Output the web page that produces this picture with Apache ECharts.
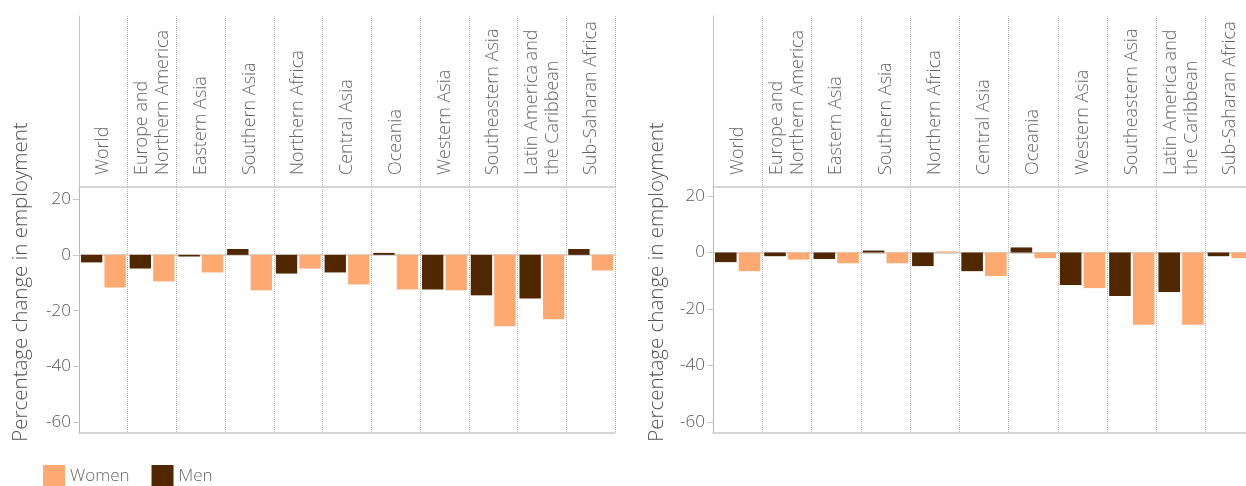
<!DOCTYPE html>
<html>
<head>
<meta charset="utf-8">
<script src="https://cdn.jsdelivr.net/npm/echarts@6/dist/echarts.min.js"></script>
<style>
    html, body { margin: 0; padding: 0; background: #fff; overflow: hidden; }
    /* wider than the window on purpose: the right panel runs past the edge */
    #main { width: 1270px; height: 486px; }
</style>
</head>
<body>
<div id="main"></div>
<script>
    var categories = ['World', 'Europe and\nNorthern America', 'Eastern Asia', 'Southern Asia', 'Northern Africa',
        'Central Asia', 'Oceania', 'Western Asia', 'Southeastern Asia', 'Latin America and\nthe Caribbean', 'Sub-Saharan Africa'];
    var leftMen = [-2.7, -4.9, -0.6, 2.1, -6.7, -6.3, 0.7, -12.4, -14.5, -15.6, 2.1];
    var leftWomen = [-11.7, -9.5, -6.3, -12.7, -4.9, -10.6, -12.4, -12.7, -25.6, -23.1, -5.6];
    var rightMen = [-3.4, -1.3, -2.3, 0.7, -4.8, -6.6, 1.8, -11.5, -15.4, -14.0, -1.3];
    var rightWomen = [-6.6, -2.5, -3.8, -3.8, 0.4, -8.3, -2.0, -12.6, -25.6, -25.6, -2.0];
    var yTicks = [-60, -40, -20, 0, 20];
    var yTitle = 'Percentage change in employment';

    var font = "'Open Sans', 'Noto Sans', sans-serif";
    var colWomen = '#ffa972';
    var colMen = '#512700';
    var lineGray = '#c8c8c8';
    var dotGray = '#b8b8b8';

    // two panels: header band with labels + plot band with bars
    var panels = [
        {left: 79, width: 536, min: -63.8, max: 24.3, men: leftMen, women: leftWomen, titleX: 21},
        {left: 713, width: 542, min: -63.9, max: 23.2, men: rightMen, women: rightWomen, titleX: 657}
    ];

    var grids = [], xAxes = [], yAxes = [], series = [], graphics = [];

    panels.forEach(function (p, i) {
        var gHead = i * 2, gMain = i * 2 + 1;
        grids.push({left: p.left, width: p.width, top: 16, height: 171});
        grids.push({left: p.left, width: p.width, top: 187, height: 246});

        xAxes.push({
            type: 'category', gridIndex: gHead, data: categories, position: 'bottom',
            axisLine: {show: true, lineStyle: {color: lineGray, width: 1.5}},
            axisTick: {show: false},
            axisLabel: {
                inside: true, rotate: 90, margin: 12, interval: 0,
                color: '#666', fontSize: 18, fontWeight: 300, fontFamily: font, lineHeight: 21
            },
            splitLine: {show: true, interval: 0, lineStyle: {type: 'dotted', color: dotGray}}
        });
        xAxes.push({
            type: 'category', gridIndex: gMain, data: categories,
            axisLine: {show: true, onZero: false, lineStyle: {color: lineGray, width: 1.5}},
            axisTick: {show: false},
            axisLabel: {show: false},
            splitLine: {show: true, interval: 0, lineStyle: {type: 'dotted', color: dotGray}}
        });

        yAxes.push({
            type: 'value', gridIndex: gHead, min: 0, max: 1,
            axisLine: {show: true, lineStyle: {type: 'dotted', color: dotGray}},
            axisTick: {show: false}, axisLabel: {show: false}, splitLine: {show: false}
        });
        yAxes.push({
            type: 'value', gridIndex: gMain, min: p.min, max: p.max,
            axisLine: {show: true, lineStyle: {type: 'dotted', color: dotGray}},
            axisTick: {show: true, length: 6, customValues: yTicks, lineStyle: {color: lineGray}},
            axisLabel: {customValues: yTicks, color: '#555', fontSize: 17, fontWeight: 300, fontFamily: font, margin: 8},
            splitLine: {show: false}
        });

        series.push({
            name: 'Men', type: 'bar', xAxisIndex: gMain, yAxisIndex: gMain,
            data: p.men, barCategoryGap: '8%', barGap: '10%',
            itemStyle: {color: colMen},
            markLine: {
                silent: true, symbol: 'none', label: {show: false},
                lineStyle: {color: lineGray, type: 'solid', width: 1.5},
                data: [{yAxis: 0}], z: 1
            }
        });
        series.push({
            name: 'Women', type: 'bar', xAxisIndex: gMain, yAxisIndex: gMain,
            data: p.women, barCategoryGap: '8%', barGap: '10%',
            itemStyle: {color: colWomen}
        });

        graphics.push({
            type: 'text', x: p.titleX, y: 282, rotation: Math.PI / 2,
            style: {
                text: yTitle, fill: '#555', fontSize: 20.5, fontWeight: 300, fontFamily: font,
                textAlign: 'center', textVerticalAlign: 'middle'
            }
        });
    });

    var myChart = echarts.init(document.getElementById('main'));
    var option = {
        animation: false,
        grid: grids,
        xAxis: xAxes,
        yAxis: yAxes,
        series: series,
        graphic: graphics,
        legend: {
            data: ['Women', 'Men'],
            left: 43, top: 465, padding: 0,
            icon: 'rect', itemWidth: 22, itemHeight: 22, itemGap: 22,
            textStyle: {color: '#666', fontSize: 17, fontWeight: 300, fontFamily: font, padding: [8, 0, 0, 0]}
        }
    };
    myChart.setOption(option);
</script>
</body>
</html>
